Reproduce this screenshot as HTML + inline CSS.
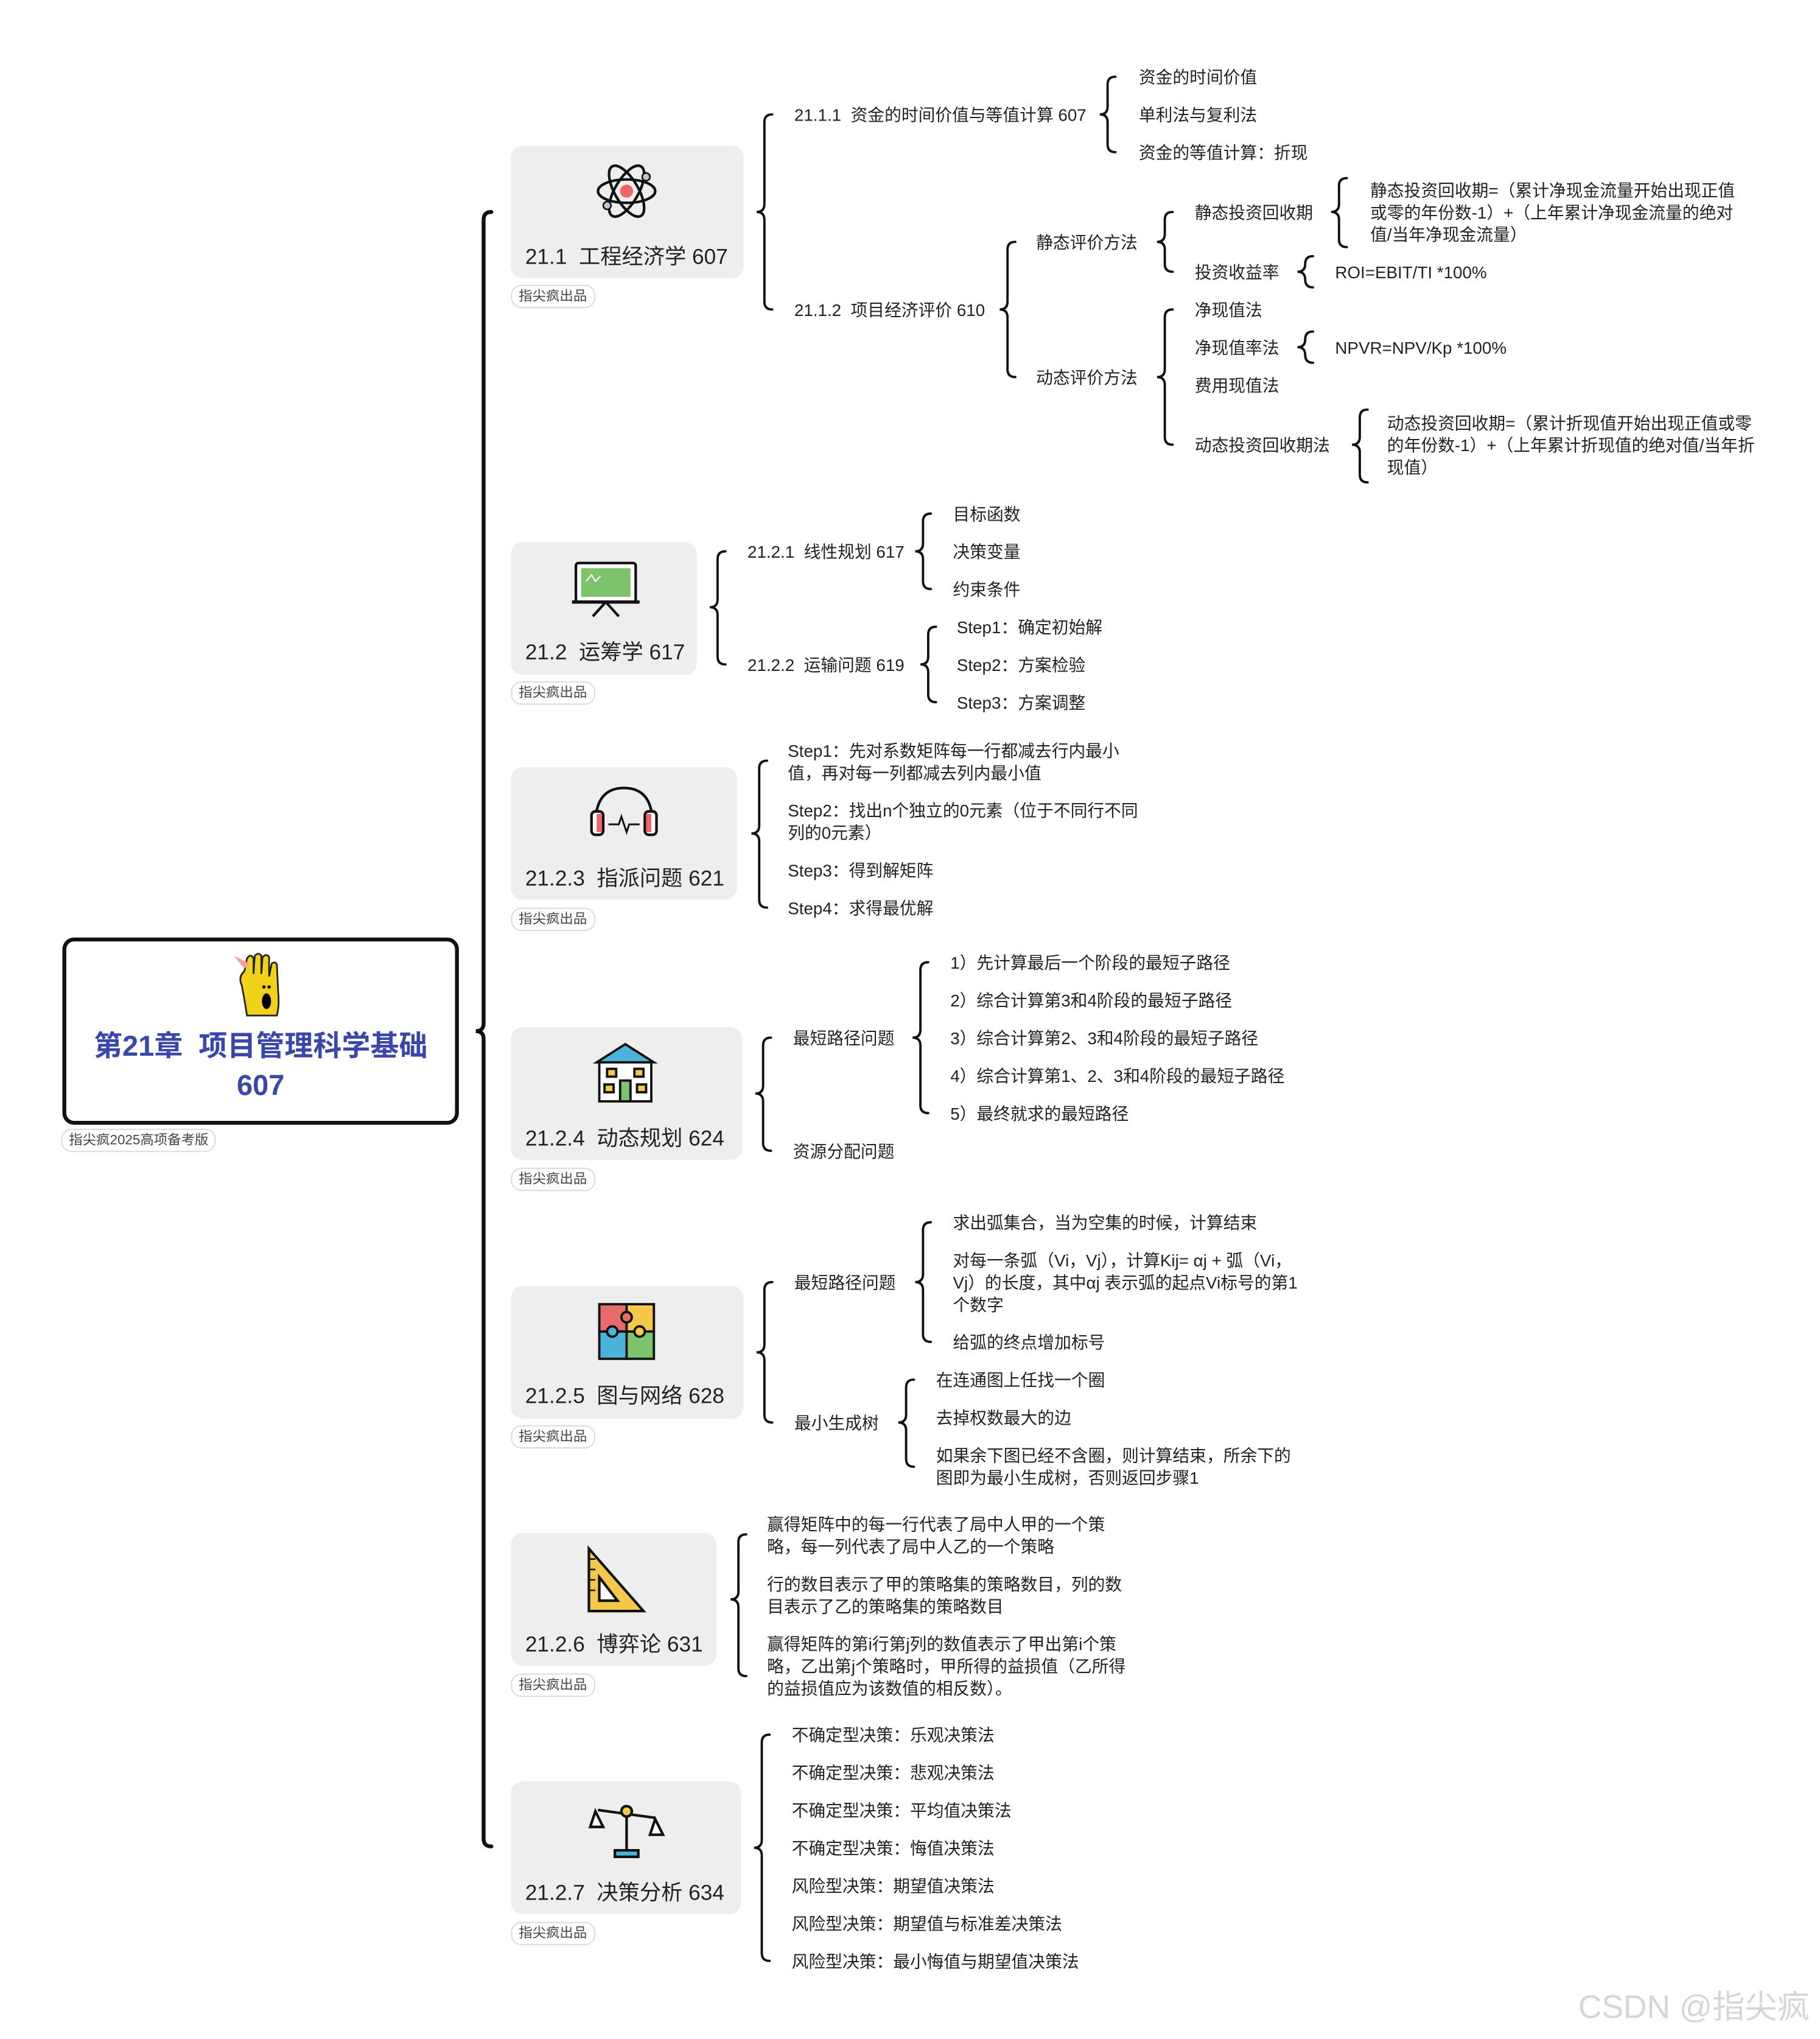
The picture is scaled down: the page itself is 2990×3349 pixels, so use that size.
<!DOCTYPE html>
<html><head><meta charset="utf-8">
<style>
html,body{margin:0;padding:0;background:#fff;}
body{width:2990px;height:3348px;overflow:hidden;position:relative;}
#c{position:absolute;left:0;top:0;width:1400px;height:1568px;transform:scale(2.135714);transform-origin:0 0;font-family:"Liberation Sans","Noto Sans CJK SC",sans-serif;color:#222;}
.t{position:absolute;font-size:13px;line-height:17px;white-space:nowrap;}
.box{position:absolute;background:#eeeeee;border-radius:9px;}
.lbl{position:absolute;font-size:16.5px;line-height:20px;white-space:nowrap;color:#222;}
.tag{position:absolute;font-size:10.5px;line-height:14px;padding:1px 5px;border:1px solid #ddd;border-radius:8px;color:#444;background:#fff;white-space:nowrap;}
svg{position:absolute;left:0;top:0;}
#icons{z-index:5;}
</style></head><body>
<div id="c">
<svg id="br" width="1400" height="1568" viewBox="0 0 1400 1568"></svg>

<!-- root -->
<div style="position:absolute;left:48px;top:721px;width:299px;height:138px;border:3px solid #111;border-radius:9px;background:#fff;"></div>
<div style="position:absolute;left:48px;top:790px;width:305px;text-align:center;font-size:22px;line-height:30px;font-weight:bold;color:#3a47aa;">第21章&nbsp; 项目管理科学基础<br>607</div>
<div class="tag" style="left:47px;top:868px;">指尖疯2025高项备考版</div>

<!-- section boxes -->
<div class="box" style="left:393px;top:112px;width:179px;height:102px"></div>
<div class="lbl" style="left:404px;top:188px">21.1&nbsp; 工程经济学 607</div>
<div class="tag" style="left:393px;top:219px">指尖疯出品</div>

<div class="box" style="left:393px;top:417px;width:143px;height:102px"></div>
<div class="lbl" style="left:404px;top:492px">21.2&nbsp; 运筹学 617</div>
<div class="tag" style="left:393px;top:524px">指尖疯出品</div>

<div class="box" style="left:393px;top:590px;width:174px;height:102px"></div>
<div class="lbl" style="left:404px;top:666px">21.2.3&nbsp; 指派问题 621</div>
<div class="tag" style="left:393px;top:698px">指尖疯出品</div>

<div class="box" style="left:393px;top:790px;width:178px;height:102px"></div>
<div class="lbl" style="left:404px;top:866px">21.2.4&nbsp; 动态规划 624</div>
<div class="tag" style="left:393px;top:898px">指尖疯出品</div>

<div class="box" style="left:393px;top:989px;width:179px;height:102px"></div>
<div class="lbl" style="left:404px;top:1064px">21.2.5&nbsp; 图与网络 628</div>
<div class="tag" style="left:393px;top:1096px">指尖疯出品</div>

<div class="box" style="left:393px;top:1179px;width:158px;height:102px"></div>
<div class="lbl" style="left:404px;top:1255px">21.2.6&nbsp; 博弈论 631</div>
<div class="tag" style="left:393px;top:1287px">指尖疯出品</div>

<div class="box" style="left:393px;top:1370px;width:177px;height:102px"></div>
<div class="lbl" style="left:404px;top:1446px">21.2.7&nbsp; 决策分析 634</div>
<div class="tag" style="left:393px;top:1478px">指尖疯出品</div>

<svg id="icons" width="1400" height="1568">
 <g transform="translate(180,733)">
  <path d="M8,14 L10,4 Q13,0 15,4 L15,16 L16,2 Q19,-1 21,2 L21,16 L22,3 Q25,0 27,3 L27,18 L29,8 Q32,6 33,9 L34,30 Q35,40 33,48 L10,48 Q8,35 6,25 Q3,18 8,14Z" fill="#f2d11a" stroke="#222" stroke-width="1.3"/>
  <ellipse cx="25" cy="37" rx="3.5" ry="6" fill="#000"/>
  <circle cx="23" cy="26" r="1.3" fill="#000"/><circle cx="27" cy="26" r="1.3" fill="#000"/>
  <path d="M0,2 L8,12 L12,8 Z" fill="#f1a0a0"/>
 </g>
 <g transform="translate(482,147)" fill="none" stroke="#111" stroke-width="2">
  <ellipse rx="22" ry="9"/><ellipse rx="22" ry="9" transform="rotate(60)"/><ellipse rx="22" ry="9" transform="rotate(-60)"/>
  <circle r="5" fill="#ee6666" stroke="none"/>
  <circle cx="15" cy="-11" r="3" fill="#b7c9cc" stroke-width="1.2"/><circle cx="-15" cy="11" r="3" fill="#b7c9cc" stroke-width="1.2"/>
 </g>
 <g transform="translate(442,433)">
  <rect x="1" y="0" width="46" height="30" rx="2" fill="#fff" stroke="#111" stroke-width="2"/>
  <rect x="5" y="4" width="38" height="22" fill="#7cc36b"/>
  <path d="M9,14 L13,9 L16,14 L20,10" stroke="#fff" fill="none"/>
  <line x1="-2" y1="30" x2="50" y2="30" stroke="#111" stroke-width="2.5"/>
  <path d="M24,30 L14,41 M24,30 L34,41" stroke="#111" stroke-width="2"/>
 </g>
 <g transform="translate(480,630)" fill="none" stroke="#111" stroke-width="2">
  <path d="M-22,4 Q-22,-24 0,-24 Q22,-24 22,4"/>
  <rect x="-25" y="-6" width="9" height="18" rx="3" fill="#fff"/><rect x="16" y="-6" width="9" height="18" rx="3" fill="#fff"/>
  <rect x="-21" y="-4" width="4" height="14" fill="#e66" stroke="none"/><rect x="17" y="-4" width="4" height="14" fill="#e66" stroke="none"/>
  <path d="M-12,4 L-4,4 L-2,-2 L2,10 L4,4 L12,4" stroke-width="1.4"/>
 </g>
 <g transform="translate(459,803)" stroke="#111" stroke-width="1.8">
  <path d="M0,14 L22,0 L44,14 Z" fill="#4bb3d9"/>
  <rect x="2" y="14" width="40" height="30" fill="#fff"/>
  <rect x="8" y="19" width="7" height="6" fill="#f3c84b"/><rect x="29" y="19" width="7" height="6" fill="#f3c84b"/>
  <rect x="18" y="28" width="8" height="16" fill="#7cc36b"/>
  <rect x="6" y="31" width="7" height="6" fill="#f3c84b"/><rect x="31" y="31" width="7" height="6" fill="#f3c84b"/>
 </g>
 <g transform="translate(461,1003)" stroke="#111" stroke-width="1.8">
  <rect x="0" y="0" width="21" height="21" fill="#e86b6b"/><rect x="21" y="0" width="21" height="21" fill="#f3c84b"/>
  <rect x="0" y="21" width="21" height="21" fill="#4bb3d9"/><rect x="21" y="21" width="21" height="21" fill="#7cc36b"/>
  <circle cx="21" cy="10" r="4" fill="#e86b6b"/><circle cx="10" cy="21" r="4" fill="#4bb3d9"/><circle cx="31" cy="21" r="4" fill="#f3c84b"/>
 </g>
 <g transform="translate(453,1191)" stroke="#111" stroke-width="2">
  <path d="M0,0 L42,48 L0,48 Z" fill="#f3c84b"/>
  <path d="M8,22 L22,40 L8,40 Z" fill="#fff"/>
  <path d="M0,8 h5 M0,16 h5 M0,24 h5 M0,32 h5" stroke-width="1.2"/>
 </g>
 <g transform="translate(482,1395)" stroke="#111" stroke-width="2" fill="none">
  <line x1="-22" y1="-3" x2="22" y2="3"/>
  <line x1="0" y1="0" x2="0" y2="30"/>
  <rect x="-9" y="28" width="18" height="5" fill="#4bb3d9"/>
  <circle cx="0" cy="-2" r="4" fill="#f3c84b"/>
  <path d="M-24,-2 L-28,10 L-18,10 Z" fill="#fff"/><path d="M22,4 L18,16 L28,16 Z" fill="#fff"/>
 </g>
</svg>

<!-- section 1 -->
<div class="t" style="left:611px;top:80px">21.1.1&nbsp; 资金的时间价值与等值计算 607</div>
<div class="t" style="left:611px;top:230px">21.1.2&nbsp; 项目经济评价 610</div>
<div class="t" style="left:876px;top:51px">资金的时间价值</div>
<div class="t" style="left:876px;top:80px">单利法与复利法</div>
<div class="t" style="left:876px;top:109px">资金的等值计算：折现</div>
<div class="t" style="left:797px;top:178px">静态评价方法</div>
<div class="t" style="left:797px;top:282px">动态评价方法</div>
<div class="t" style="left:919px;top:155px">静态投资回收期</div>
<div class="t" style="left:919px;top:201px">投资收益率</div>
<div class="t" style="left:1054px;top:138px">静态投资回收期=（累计净现金流量开始出现正值<br>或零的年份数-1）+（上年累计净现金流量的绝对<br>值/当年净现金流量）</div>
<div class="t" style="left:1027px;top:201px">ROI=EBIT/TI *100%</div>
<div class="t" style="left:919px;top:230px">净现值法</div>
<div class="t" style="left:919px;top:259px">净现值率法</div>
<div class="t" style="left:919px;top:288px">费用现值法</div>
<div class="t" style="left:919px;top:334px">动态投资回收期法</div>
<div class="t" style="left:1027px;top:259px">NPVR=NPV/Kp *100%</div>
<div class="t" style="left:1067px;top:317px">动态投资回收期=（累计折现值开始出现正值或零<br>的年份数-1）+（上年累计折现值的绝对值/当年折<br>现值）</div>

<!-- section 2 -->
<div class="t" style="left:575px;top:416px">21.2.1&nbsp; 线性规划 617</div>
<div class="t" style="left:575px;top:503px">21.2.2&nbsp; 运输问题 619</div>
<div class="t" style="left:733px;top:387px">目标函数</div>
<div class="t" style="left:733px;top:416px">决策变量</div>
<div class="t" style="left:733px;top:445px">约束条件</div>
<div class="t" style="left:736px;top:474px">Step1：确定初始解</div>
<div class="t" style="left:736px;top:503px">Step2：方案检验</div>
<div class="t" style="left:736px;top:532px">Step3：方案调整</div>

<!-- section 3 -->
<div class="t" style="left:606px;top:569px">Step1：先对系数矩阵每一行都减去行内最小<br>值，再对每一列都减去列内最小值</div>
<div class="t" style="left:606px;top:615px">Step2：找出n个独立的0元素（位于不同行不同<br>列的0元素）</div>
<div class="t" style="left:606px;top:661px">Step3：得到解矩阵</div>
<div class="t" style="left:606px;top:690px">Step4：求得最优解</div>

<!-- section 4 -->
<div class="t" style="left:610px;top:790px">最短路径问题</div>
<div class="t" style="left:610px;top:877px">资源分配问题</div>
<div class="t" style="left:731px;top:732px">1）先计算最后一个阶段的最短子路径</div>
<div class="t" style="left:731px;top:761px">2）综合计算第3和4阶段的最短子路径</div>
<div class="t" style="left:731px;top:790px">3）综合计算第2、3和4阶段的最短子路径</div>
<div class="t" style="left:731px;top:819px">4）综合计算第1、2、3和4阶段的最短子路径</div>
<div class="t" style="left:731px;top:848px">5）最终就求的最短路径</div>

<!-- section 5 -->
<div class="t" style="left:611px;top:978px">最短路径问题</div>
<div class="t" style="left:611px;top:1086px">最小生成树</div>
<div class="t" style="left:733px;top:932px">求出弧集合，当为空集的时候，计算结束</div>
<div class="t" style="left:733px;top:961px">对每一条弧（Vi，Vj），计算Kij= αj + 弧（Vi，<br>Vj）的长度，其中αj 表示弧的起点Vi标号的第1<br>个数字</div>
<div class="t" style="left:733px;top:1024px">给弧的终点增加标号</div>
<div class="t" style="left:720px;top:1053px">在连通图上任找一个圈</div>
<div class="t" style="left:720px;top:1082px">去掉权数最大的边</div>
<div class="t" style="left:720px;top:1111px">如果余下图已经不含圈，则计算结束，所余下的<br>图即为最小生成树，否则返回步骤1</div>

<!-- section 6 -->
<div class="t" style="left:590px;top:1164px">赢得矩阵中的每一行代表了局中人甲的一个策<br>略，每一列代表了局中人乙的一个策略</div>
<div class="t" style="left:590px;top:1210px">行的数目表示了甲的策略集的策略数目，列的数<br>目表示了乙的策略集的策略数目</div>
<div class="t" style="left:590px;top:1256px">赢得矩阵的第i行第j列的数值表示了甲出第i个策<br>略，乙出第j个策略时，甲所得的益损值（乙所得<br>的益损值应为该数值的相反数）。</div>

<!-- section 7 -->
<div class="t" style="left:609px;top:1326px">不确定型决策：乐观决策法</div>
<div class="t" style="left:609px;top:1355px">不确定型决策：悲观决策法</div>
<div class="t" style="left:609px;top:1384px">不确定型决策：平均值决策法</div>
<div class="t" style="left:609px;top:1413px">不确定型决策：悔值决策法</div>
<div class="t" style="left:609px;top:1442px">风险型决策：期望值决策法</div>
<div class="t" style="left:609px;top:1471px">风险型决策：期望值与标准差决策法</div>
<div class="t" style="left:609px;top:1500px">风险型决策：最小悔值与期望值决策法</div>

<div style="position:absolute;left:1214px;top:1528px;font-size:25px;line-height:32px;color:#d6d6d6;white-space:nowrap;">CSDN @指尖疯</div>
</div>
<script>
var B=[
[372,163,1420,793,3],
[588,88,238,163],[852,59,117,88],[775,186,290,238],[896,163,209,186],[1030,137,190,163],[1004,197,221,209],
[896,238,342,290],[1004,255,279,267],[1046,315,371,342],
[552,424,511,467],[710,395,453,424],[714,482,540,511],
[584,585,698,641],
[587,798,885,841],[708,740,856,798],
[588,986,1094,1040],[710,940,1032,986],[697,1061,1128,1094],
[568,1180,1289,1230],
[586,1334,1508,1421]
];
var s='';
B.forEach(function(b){var x=b[0],t=b[1],bt=b[2],m=b[3],w=b[4]||1.8,r=6;
s+='<path d="M'+(x+r)+','+t+' Q'+x+','+t+' '+x+','+(t+r)+' L'+x+','+(m-r)+' Q'+x+','+m+' '+(x-r)+','+m+' Q'+x+','+m+' '+x+','+(m+r)+' L'+x+','+(bt-r)+' Q'+x+','+bt+' '+(x+r)+','+bt+'" fill="none" stroke="#111" stroke-width="'+w+'" stroke-linecap="round"/>';});
document.getElementById('br').innerHTML=s;
</script>
</body></html>
